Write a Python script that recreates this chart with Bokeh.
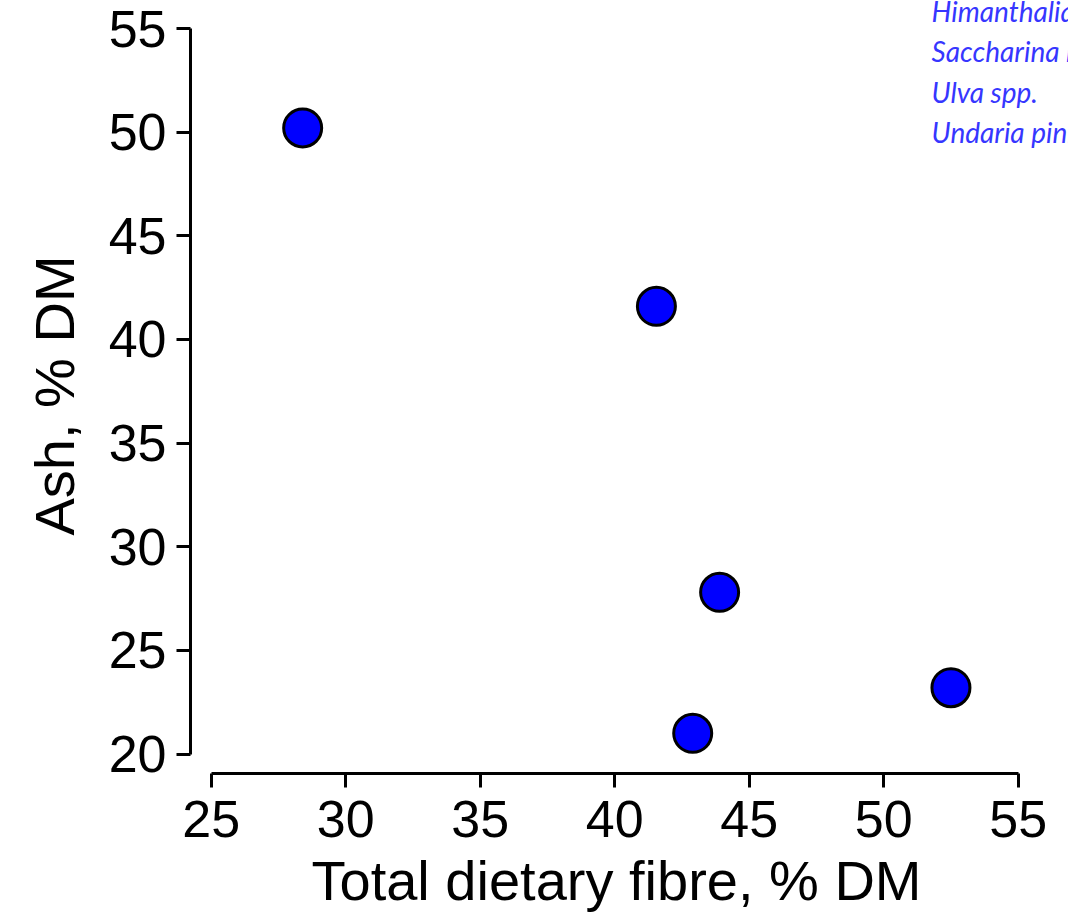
from bokeh.plotting import figure
from bokeh.models import Range1d, Label, FixedTicker, Title
from bokeh.embed import file_html
from bokeh.resources import INLINE

# Seaweed composition, % of dry matter
fibre = [28.4, 41.55, 43.9, 42.9, 52.5]
ash = [50.2, 41.6, 27.8, 21.0, 23.2]
species = ["Himanthalia elongata", "Saccharina latissima", "Ulva spp.", "Undaria pinnatifida"]
x_ticks = [25, 30, 35, 40, 45, 50, 55]
y_ticks = [20, 25, 30, 35, 40, 45, 50, 55]

p = figure(width=1068, height=922, output_backend="svg", toolbar_location=None,
           x_range=Range1d(24.23, 56.87), y_range=Range1d(19.06, 56.35),
           min_border_left=190, min_border_right=0, min_border_top=0, min_border_bottom=149)
p.outline_line_color = None
p.grid.visible = False
p.background_fill_color = "white"

p.scatter(fibre, ash, size=38, fill_color="#0000ff", line_color="black", line_width=3)

for ax, ticks in ((p.xaxis[0], x_ticks), (p.yaxis[0], y_ticks)):
    ax.ticker = FixedTicker(ticks=ticks)
    ax.bounds = (ticks[0], ticks[-1])
    ax.minor_tick_line_color = None
    ax.major_tick_in = 0
    ax.major_tick_out = 14
    ax.major_tick_line_width = 3
    ax.axis_line_width = 3
    ax.major_label_text_font = "Liberation Sans"
    ax.major_label_text_font_size = "52px"
    ax.major_label_text_color = "black"

p.xaxis.major_label_standoff = 13
p.yaxis.major_label_standoff = 10

# axis titles, placed from the start of the frame
p.add_layout(Title(text="Total dietary fibre, % DM", align="left", offset=121,
                   text_font="Liberation Sans", text_font_size="56px",
                   text_font_style="normal", text_color="black", standoff=14), "below")
p.add_layout(Title(text="Ash, % DM", align="left", offset=238,
                   text_font="Liberation Sans", text_font_size="56px",
                   text_font_style="normal", text_color="black", standoff=40), "left")

# species list, top right, one line per name
list_x = 51.78
list_top = 55.82
line_step = 1.93
for i, name in enumerate(species):
    p.add_layout(Label(x=list_x, y=list_top - line_step * i,
                       text=name, text_font="Lato", text_font_style="italic",
                       text_font_size="28px", text_color="#3636ff",
                       text_baseline="alphabetic"))

open("out.html", "w").write(file_html(p, INLINE))
